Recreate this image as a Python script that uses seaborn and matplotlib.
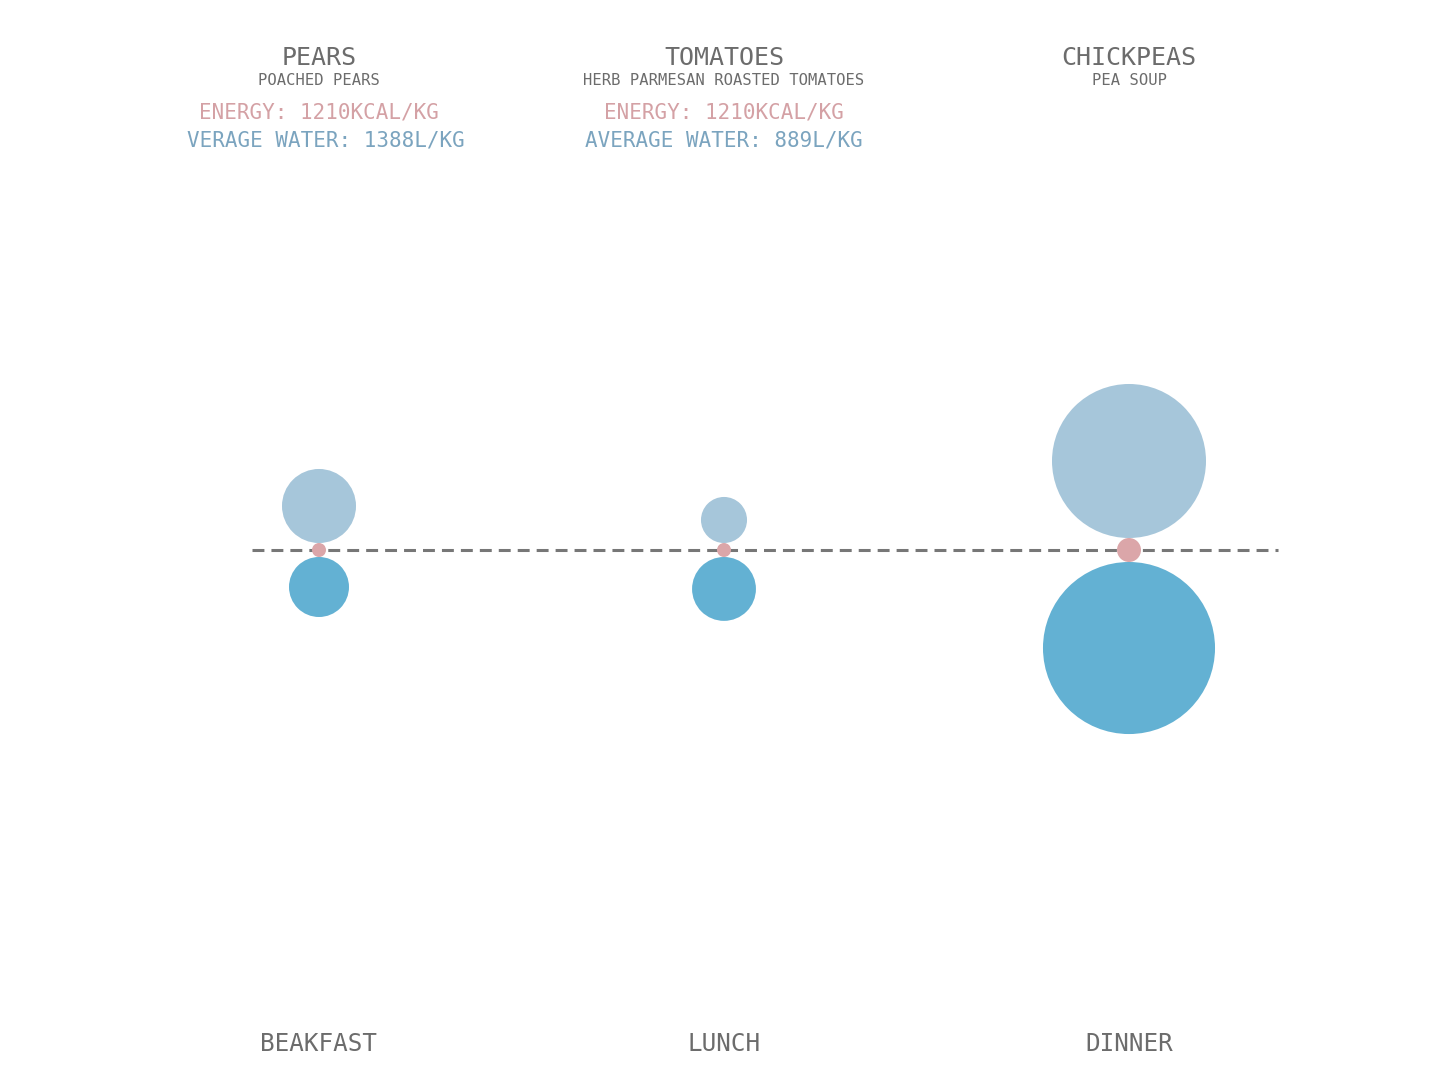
import numpy as np
import matplotlib
matplotlib.use("Agg")
import matplotlib.pyplot as plt
import seaborn as sns

# ---------------- data ----------------
meals = ["Beakfast", "Lunch", "Dinner"]
foods = ["Pears", "Tomatoes", "Chickpeas"]
recipes = ["Poached pears", "Herb Parmesan Roasted tomatoes", "Pea soup"]
energy_labels = ["Energy: 1210kCal/kg", "Energy: 1210kCal/kg", ""]
water_labels = ["verage Water: 1388L/kg", "Average Water: 889L/kg", ""]
# bubble magnitudes (area units; radius = sqrt(value) in px)
upper_water = [1370, 530, 5930]   # light blue bubbles above the line
lower_water = [900, 1020, 7400]   # dark blue bubbles below the line
energy_vals = [49, 49, 144]       # small pink bubbles on the line

# ---------------- styling / layout ----------------
sns.set_theme(style="white")
plt.rcParams["font.family"] = ["DejaVu Sans Mono", "DejaVu Sans"]

W, H, DPI = 1440, 1080, 100
fig = plt.figure(figsize=(W / DPI, H / DPI), dpi=DPI)
ax = fig.add_axes([0, 0, 1, 1])
ax.set_xlim(0, W)
ax.set_ylim(H, 0)
ax.axis("off")

col_x = np.array([319, 724, 1129])
line_y = 550
line_x = (252, 1278)

c_light = "#a6c6da"
c_dark = "#63b1d3"
c_pink = "#dba6a9"
c_title = "#6c6c6c"
c_etext = "#d4a1a5"
c_wtext = "#7ba4bf"

# dashed baseline
ax.plot(line_x, [line_y, line_y], color="#777777", lw=2.2,
        dashes=(3.9, 2.3), zorder=1)

px2pt = 72.0 / DPI
r_up = np.sqrt(upper_water)
r_lo = np.sqrt(lower_water)
r_en = np.sqrt(energy_vals)

y_up = line_y - r_en - r_up
y_lo = line_y + r_en + r_lo

def area(r):
    return (2 * r * px2pt) ** 2

sns.scatterplot(x=col_x, y=y_up, s=area(r_up), color=c_light,
                edgecolor="none", linewidth=0, legend=False, ax=ax, zorder=3)
sns.scatterplot(x=col_x, y=y_lo, s=area(r_lo), color=c_dark,
                edgecolor="none", linewidth=0, legend=False, ax=ax, zorder=3)
sns.scatterplot(x=col_x, y=np.full(3, line_y), s=area(r_en), color=c_pink,
                edgecolor="none", linewidth=0, legend=False, ax=ax, zorder=4)

# header texts
for i, x in enumerate(col_x):
    ax.text(x, 65, foods[i].upper(), ha="center", va="baseline",
            fontsize=18, color=c_title)
    ax.text(x, 85, recipes[i].upper(), ha="center", va="baseline",
            fontsize=11.2, color=c_title)
    if energy_labels[i]:
        ax.text(x, 118, energy_labels[i].upper(), ha="center", va="baseline",
                fontsize=15, color=c_etext)
    if water_labels[i]:
        dx = 7 if water_labels[i].startswith("verage") else 0
        ax.text(x + dx, 146, water_labels[i].upper(), ha="center",
                va="baseline", fontsize=15, color=c_wtext)
    ax.text(x, 1051, meals[i].upper(), ha="center", va="baseline",
            fontsize=17.5, color="#6c6c6c")

fig.savefig("out.png", dpi=DPI, facecolor="white")
